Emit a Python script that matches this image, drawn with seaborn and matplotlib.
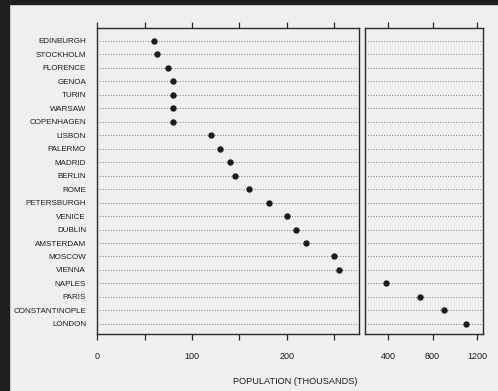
import matplotlib
matplotlib.use("Agg")
import matplotlib.pyplot as plt
import seaborn as sns
import pandas as pd
from matplotlib.patches import Rectangle

cities = ["EDINBURGH", "STOCKHOLM", "FLORENCE", "GENOA", "TURIN", "WARSAW",
          "COPENHAGEN", "LISBON", "PALERMO", "MADRID", "BERLIN", "ROME",
          "PETERSBURGH", "VENICE", "DUBLIN", "AMSTERDAM", "MOSCOW", "VIENNA",
          "NAPLES", "PARIS", "CONSTANTINOPLE", "LONDON"]
population = [60, 63, 75, 80, 80, 80, 80, 120, 130, 140, 145, 160,
              181, 200, 210, 220, 250, 255, 380, 690, 900, 1100]
left_ticks = [0, 50, 100, 150, 200, 250]
left_labels = ["0", "", "100", "", "200", ""]
right_ticks = [400, 800, 1200]
right_labels = ["400", "800", "1200"]
xlabel = "POPULATION (THOUSANDS)"

sns.set_theme(style="white")
plt.rcParams["font.family"] = ["Liberation Sans", "DejaVu Sans"]

df = pd.DataFrame({"city": cities, "population": population})
df_left = df[df["population"] < 300]
df_right = df[df["population"] >= 300]

paper = "#efefed"
ink = "#1c1c1c"
fig = plt.figure(figsize=(4.98, 3.91), dpi=100, facecolor=paper)
W, H = 498, 391
ax1 = fig.add_axes([96.5 / W, 1 - 334 / H, (358.5 - 96.5) / W, (334 - 28) / H])
ax2 = fig.add_axes([364.5 / W, 1 - 334 / H, (483 - 364.5) / W, (334 - 28) / H])

for ax, d in ((ax1, df_left), (ax2, df_right)):
    ax.set_facecolor(paper)
    sns.stripplot(data=d, x="population", y="city", order=cities, jitter=False,
                  color=ink, size=4.6, orient="h", ax=ax, zorder=3)
    ax.set_ylim(21.75, -0.95)
    ax.yaxis.grid(True, linestyle=(0, (1, 2.2)), color="#5a5a5a", linewidth=0.6)
    ax.xaxis.grid(False)
    ax.set_axisbelow(True)
    ax.set_xlabel("")
    ax.set_ylabel("")
    for s in ax.spines.values():
        s.set_visible(True)
        s.set_color("#2a2a2a")
        s.set_linewidth(1.0)
    ax.tick_params(axis="x", which="both", direction="out", length=4, width=0.9,
                   color="#2a2a2a", top=True, bottom=True, labeltop=False,
                   labelbottom=True, labelsize=6.5, pad=9, labelcolor=ink)

ax1.set_xlim(-1, 276)
ax1.set_xticks(left_ticks)
ax1.set_xticklabels(left_labels)
ax1.tick_params(axis="y", length=0, pad=7.5, labelsize=5.8, labelcolor=ink)

ax2.set_xlim(190, 1253)
ax2.set_xticks(right_ticks)
ax2.set_xticklabels(right_labels)
ax2.tick_params(axis="y", length=0, labelleft=False)

fig.text(295 / W, 1 - 381 / H, xlabel, ha="center", va="center",
         fontsize=6.6, color=ink)

fig.patches.append(Rectangle((0, 0), 9 / W, 1, transform=fig.transFigure,
                             color="#1e1e1e", zorder=0))
fig.patches.append(Rectangle((0, 1 - 4 / H), 1, 4 / H, transform=fig.transFigure,
                             color="#1e1e1e", zorder=0))

fig.savefig("out.png", dpi=100, facecolor=paper)
